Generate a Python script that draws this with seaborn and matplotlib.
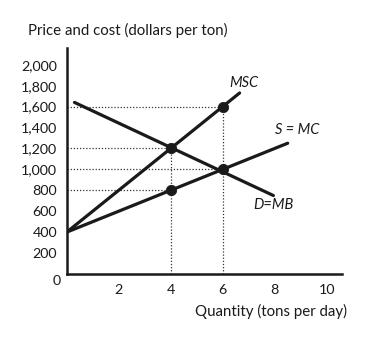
import matplotlib
matplotlib.use("Agg")
import matplotlib.pyplot as plt
import seaborn as sns
import pandas as pd

# Curves (quantity in tons per day, price in dollars per ton)
msc_q = [0, 6.65]
msc_p = [400, 1730]
mc_q = [0, 8.5]
mc_p = [400, 1250]
mb_q = [0.3, 7.95]
mb_p = [1640, 750]

# Marked points on the curves
dot_q = [4, 4, 6, 6]
dot_p = [1200, 800, 1000, 1600]

x_ticks = [2, 4, 6, 8, 10]
y_ticks = [200, 400, 600, 800, 1000, 1200, 1400, 1600, 1800, 2000]

sns.set_style("white")
plt.rcParams["font.family"] = ["Lato", "DejaVu Sans"]

fig = plt.figure(figsize=(3.68, 3.41), dpi=100)
ax = fig.add_axes([66.7 / 368, 67 / 341, 275.6 / 368, 226 / 341])

ink = "#1a1a1a"
lw = 2.3

# Dotted guide lines from the marked points to the axes
for q, p in zip(dot_q, dot_p):
    ax.plot([0, q], [p, p], linestyle=(0, (1, 1.5)), color="#333333", lw=0.9, zorder=1)
for q in sorted(set(dot_q)):
    top = max(p for qq, p in zip(dot_q, dot_p) if qq == q)
    ax.plot([q, q], [0, top], linestyle=(0, (1, 1.5)), color="#333333", lw=0.9, zorder=1)

curves = pd.DataFrame({
    "q": msc_q + mc_q + mb_q,
    "p": msc_p + mc_p + mb_p,
    "curve": ["MSC"] * 2 + ["S = MC"] * 2 + ["D=MB"] * 2,
})
sns.lineplot(data=curves, x="q", y="p", units="curve", estimator=None,
             color=ink, lw=lw, sort=False, ax=ax, zorder=3)
sns.scatterplot(x=dot_q, y=dot_p, color=ink, s=55, edgecolor=ink, zorder=4, ax=ax)

ax.set_xlim(0, 10.6)
ax.set_ylim(0, 2160)
ax.set_xticks(x_ticks)
ax.set_yticks(y_ticks)
ax.set_yticklabels([f"{v:,}" for v in y_ticks])
ax.tick_params(direction="inout", length=8, width=1.2, color=ink,
               labelsize=10.3, labelcolor=ink, pad=3)
ax.set_xlabel("")
ax.set_ylabel("")

for side in ("top", "right"):
    ax.spines[side].set_visible(False)
for side in ("left", "bottom"):
    ax.spines[side].set_color(ink)
    ax.spines[side].set_linewidth(1.8)

# Curve labels
ax.text(6.8, 1830, "MSC", style="italic", fontsize=10.5, color=ink, ha="center", va="center")
ax.text(8.85, 1380, "S = MC", style="italic", fontsize=10.5, color=ink, ha="center", va="center")
ax.text(7.95, 660, "D=MB", style="italic", fontsize=10.5, color=ink, ha="center", va="center")

fig.text(57 / 368, 1 - 281 / 341, "0", fontsize=10.3, color=ink, ha="center", va="center")
fig.text(28 / 368, 1 - 30 / 341, "Price and cost (dollars per ton)", fontsize=10.8,
         color=ink, ha="left", va="center")
fig.text(347 / 368, 1 - 311 / 341, "Quantity (tons per day)", fontsize=10.8,
         color=ink, ha="right", va="center")

fig.savefig("out.png", dpi=100)
